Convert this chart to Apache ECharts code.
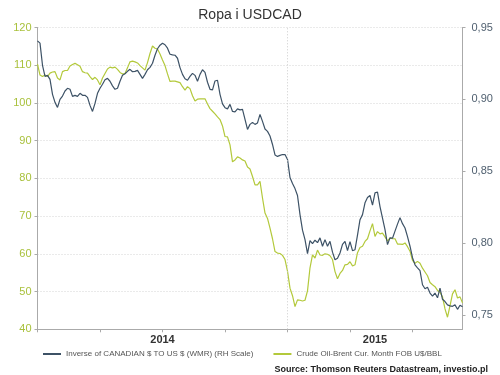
<!DOCTYPE html>
<html>
<head>
<meta charset="utf-8">
<script src="https://cdn.jsdelivr.net/npm/echarts@6/dist/echarts.min.js"></script>
<style>
  html, body { margin: 0; padding: 0; background: #fff; }
  #chart { width: 500px; height: 375px; }
</style>
</head>
<body>
<div id="chart"></div>
<script>
// dane: probki co ~3.65 dnia od poczatku 2014
var startYear = 2014;
var stepYear = 0.01;

var yearLabels = ['2014', '2015'];
var cadTicks = [0.75, 0.80, 0.85, 0.90, 0.95];

// Crude Oil-Brent (lewa skala)
var oilValues = [
  110.3, 107.4, 107.0, 107.4, 107.0, 107.9, 108.2, 108.3, 106.6, 106.1,
  108.3, 108.6, 108.6, 109.8, 110.2, 110.5, 110.1, 109.7, 108.3, 108.0,
  107.9, 107.0, 106.2, 106.8, 106.1, 104.8, 106.6, 107.8, 109.0, 109.5,
  109.3, 109.5, 108.9, 108.1, 107.7, 107.8, 109.3, 110.9, 111.1, 110.9,
  110.6, 109.9, 109.3, 108.7, 110.7, 113.1, 115.1, 114.5, 114.3, 113.0,
  111.4, 109.9, 107.7, 105.7, 105.8, 105.8, 105.6, 105.4, 104.3, 103.4,
  104.3, 103.8, 101.9, 100.5, 101.0, 101.1, 101.1, 101.1, 99.7, 98.5,
  97.8, 97.1, 96.3, 95.6, 93.9, 91.1, 91.0, 88.9, 84.4, 84.9,
  85.7, 85.4, 84.9, 84.6, 83.0, 82.5, 80.5, 78.3, 78.3, 79.2,
  74.8, 70.8, 69.4, 66.8, 64.0, 60.6, 60.2, 60.1, 59.6, 58.5,
  55.4, 50.9, 48.9, 46.0, 47.8, 47.7, 47.5, 47.7, 50.2, 56.3,
  59.7, 58.9, 61.0, 59.7, 59.6, 60.0, 59.9, 59.5, 58.5, 55.3,
  53.4, 54.8, 55.6, 57.1, 57.2, 57.9, 56.8, 57.1, 60.3, 61.7,
  62.0, 63.3, 64.0, 66.1, 68.0, 64.6, 65.9, 65.3, 65.5, 64.5,
  63.4, 64.2, 64.0, 64.0, 62.6, 62.6, 62.5, 62.9, 61.9, 60.7,
  58.3, 57.5, 58.0, 57.5, 56.2, 55.2, 54.2, 52.4, 51.8, 51.3,
  50.3, 49.8, 48.6, 45.4, 43.2, 46.2, 49.4, 50.5, 48.3, 48.6,
  47.0
];

// Inverse of CANADIAN $ TO US $ (prawa skala)
var cadValues = [
  0.9407, 0.9391, 0.9237, 0.9160, 0.9167, 0.9139, 0.9035, 0.8979, 0.8944, 0.9000,
  0.9023, 0.9058, 0.9077, 0.9070, 0.9021, 0.9028, 0.9021, 0.9042, 0.9028, 0.9028,
  0.9014, 0.8958, 0.8916, 0.8972, 0.9042, 0.9077, 0.9105, 0.9136, 0.9146, 0.9126,
  0.9094, 0.9070, 0.9077, 0.9126, 0.9167, 0.9178, 0.9195, 0.9209, 0.9192, 0.9195,
  0.9202, 0.9174, 0.9146, 0.9174, 0.9206, 0.9223, 0.9251, 0.9307, 0.9352, 0.9377,
  0.9391, 0.9380, 0.9356, 0.9314, 0.9310, 0.9307, 0.9286, 0.9221, 0.9174, 0.9143,
  0.9133, 0.9160, 0.9181, 0.9167, 0.9126, 0.9174, 0.9206, 0.9188, 0.9119, 0.9070,
  0.9066, 0.9128, 0.9133, 0.9035, 0.8969, 0.8942, 0.8934, 0.8965, 0.8916, 0.8913,
  0.8934, 0.8927, 0.8930, 0.8861, 0.8791, 0.8826, 0.8840, 0.8826, 0.8836, 0.8895,
  0.8847, 0.8794, 0.8777, 0.8745, 0.8686, 0.8613, 0.8603, 0.8610, 0.8616, 0.8616,
  0.8582, 0.8456, 0.8414, 0.8379, 0.8331, 0.8198, 0.8090, 0.8024, 0.7926, 0.8017,
  0.7996, 0.8020, 0.8003, 0.8036, 0.7978, 0.8024, 0.7978, 0.8012, 0.7937, 0.7884,
  0.7895, 0.7931, 0.7991, 0.8012, 0.7947, 0.8010, 0.7947, 0.7954, 0.8055, 0.8163,
  0.8198, 0.8280, 0.8317, 0.8331, 0.8264, 0.8349, 0.8355, 0.8254, 0.8174, 0.8093,
  0.7989, 0.8036, 0.8034, 0.8083, 0.8132, 0.8177, 0.8135, 0.8105, 0.8045, 0.7978,
  0.7898, 0.7849, 0.7828, 0.7808, 0.7710, 0.7682, 0.7692, 0.7652, 0.7630, 0.7652,
  0.7619, 0.7687, 0.7609, 0.7593, 0.7570, 0.7563, 0.7560, 0.7570, 0.7539, 0.7567,
  0.7557
];

var cadName = 'Inverse of CANADIAN $ TO US $ (WMR) (RH Scale)';
var oilName = 'Crude Oil-Brent Cur. Month FOB U$/BBL';

function withX(values) {
    var out = [];
    for (var i = 0; i < values.length; i++) {
        out.push([startYear + i * stepYear, values[i]]);
    }
    return out;
}

var myChart = echarts.init(document.getElementById('chart'));
var font = 'Liberation Sans, Arial, sans-serif';
var option = {
    animation: false,
    textStyle: { fontFamily: font },
    title: [
        {
            text: 'Ropa i USDCAD',
            left: 'center',
            top: 3,
            textStyle: { fontSize: 14, fontWeight: 'normal', color: '#333', fontFamily: font }
        },
        {
            text: 'Source: Thomson Reuters Datastream, investio.pl',
            right: 12,
            bottom: 1,
            padding: 0,
            textStyle: { fontSize: 9, fontWeight: 'bold', color: '#222', fontFamily: font }
        }
    ],
    legend: {
        data: [cadName, oilName],
        left: 38,
        top: 345,
        icon: 'rect',
        itemWidth: 18,
        itemHeight: 2,
        itemGap: 20,
        textStyle: { fontSize: 8, color: '#555', fontFamily: font }
    },
    grid: {
        left: 37.5,
        right: 37.5,
        top: 27.5,
        bottom: 45.7
    },
    xAxis: {
        type: 'value',
        min: 2014,
        max: 2015.7,
        axisLine: { show: true, lineStyle: { color: '#aaa' } },
        axisTick: {
            show: true,
            length: 3,
            customValues: [2014, 2014.25, 2014.5, 2014.75, 2015, 2015.25, 2015.5],
            lineStyle: { color: '#aaa' }
        },
        axisLabel: {
            customValues: [2014.5, 2015.35],
            formatter: function (v) { return yearLabels[Math.floor(v) - startYear]; },
            fontSize: 11,
            fontWeight: 'bold',
            color: '#333',
            margin: 5
        },
        splitLine: { show: false }
    },
    yAxis: [
        {
            type: 'value',
            position: 'left',
            min: 40,
            max: 120,
            interval: 10,
            axisLine: { show: true, lineStyle: { color: '#aaa' } },
            axisTick: { show: true, length: 3, lineStyle: { color: '#aaa' } },
            axisLabel: { color: '#a9c13c', fontSize: 11, margin: 6 },
            splitLine: { show: true, lineStyle: { color: '#d4d4d4', type: [1, 2] } }
        },
        {
            type: 'value',
            position: 'right',
            min: 0.74,
            max: 0.95,
            axisLine: { show: true, lineStyle: { color: '#aaa' } },
            axisTick: { show: true, length: 3, customValues: cadTicks, lineStyle: { color: '#aaa' } },
            axisLabel: {
                customValues: cadTicks,
                color: '#4f5f6f',
                fontSize: 11,
                margin: 9,
                formatter: function (v) { return v.toFixed(2).replace('.', ','); }
            },
            splitLine: { show: false }
        }
    ],
    series: [
        {
            name: oilName,
            type: 'line',
            yAxisIndex: 0,
            data: withX(oilValues),
            showSymbol: false,
            symbol: 'none',
            lineStyle: { width: 1.2, color: '#b3c93b' },
            itemStyle: { color: '#b3c93b' },
            markLine: {
                silent: true,
                symbol: 'none',
                label: { show: false },
                lineStyle: { color: '#ccc', type: [1, 2], width: 1 },
                data: [{ xAxis: 2015 }]
            }
        },
        {
            name: cadName,
            type: 'line',
            yAxisIndex: 1,
            data: withX(cadValues),
            showSymbol: false,
            symbol: 'none',
            lineStyle: { width: 1.2, color: '#3d5266' },
            itemStyle: { color: '#3d5266' }
        }
    ]
};
myChart.setOption(option);
</script>
</body>
</html>
